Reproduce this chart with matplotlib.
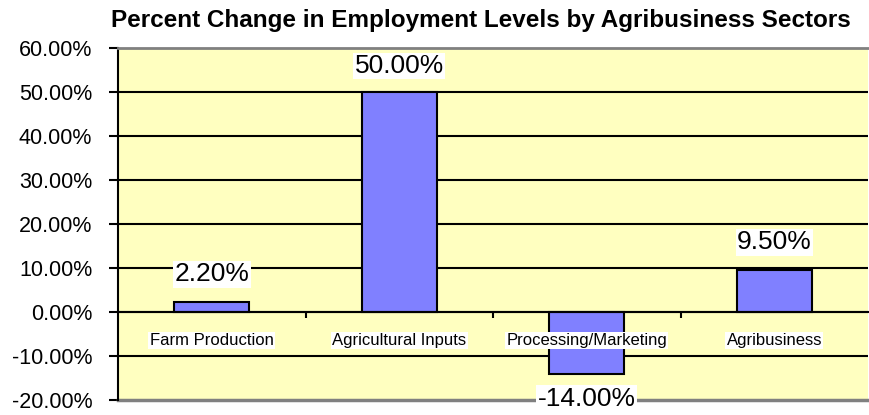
import matplotlib
matplotlib.use("Agg")
import matplotlib.pyplot as plt
from matplotlib.ticker import FuncFormatter, MultipleLocator

categories = ["Farm Production", "Agricultural Inputs", "Processing/Marketing", "Agribusiness"]
values = [2.2, 50.0, -14.0, 9.5]
title = "Percent Change in Employment Levels by Agribusiness Sectors"

plt.rcParams['font.family'] = ['Liberation Sans', 'DejaVu Sans']

W, H = 869, 415
fig = plt.figure(figsize=(W / 100, H / 100), dpi=100)
ax = fig.add_axes([118 / W, (H - 400) / H, (868 - 118) / W, (400 - 48) / H])
ax.set_facecolor("#FFFFC0")

x = list(range(len(categories)))
ax.bar(x, values, width=0.4, color="#8080FF", edgecolor="black", linewidth=1.5, zorder=3)

ax.set_xlim(-0.5, len(categories) - 0.5)
ax.set_ylim(-20, 60)
ax.yaxis.set_major_locator(MultipleLocator(10))
ax.yaxis.set_major_formatter(FuncFormatter(lambda v, p: f"{v:.2f}%"))
for yv in range(-10, 60, 10):
    ax.axhline(yv, color="black", linewidth=1.5, zorder=2)

ax.spines['right'].set_visible(False)
ax.spines['top'].set_color("#808080")
ax.spines['top'].set_linewidth(2)
ax.spines['left'].set_linewidth(1.5)
ax.spines['bottom'].set_position(('data', 0))
ax.spines['bottom'].set_linewidth(1.5)
ax.spines['bottom'].set_zorder(4)
ax.axhline(-20, color="#808080", linewidth=2.5, zorder=2, clip_on=False)

ax.tick_params(axis='y', direction='out', length=6.5, width=1.5, labelsize=15.5, pad=12)
ax.set_xticks(x)
ax.set_xticklabels(categories)
ax.set_xticks([i + 0.5 for i in x[:-1]], minor=True)
ax.tick_params(axis='x', which='major', length=0, pad=15, labelsize=12)
ax.tick_params(axis='x', which='minor', direction='out', length=4.5, width=1.5)
ax.xaxis.set_zorder(5)
for lab in ax.get_xticklabels():
    lab.set_bbox(dict(facecolor="white", edgecolor="none", pad=1))

fig.canvas.draw()
for xi, v in zip(x, values):
    py = ax.transData.transform((xi, v))[1]
    if v >= 0:
        off = min(28, (ax.bbox.y1 - py) - 18)
    else:
        off = -25
    ax.annotate(f"{v:.2f}%", (xi, v), xytext=(0, off), textcoords="offset pixels",
                ha="center", va="center", fontsize=19, zorder=6,
                bbox=dict(facecolor="white", edgecolor="none", pad=1), annotation_clip=False)

fig.text(481 / W, 1 - 27 / H, title, ha="center", va="baseline", fontsize=17.5, fontweight="bold")

fig.savefig("out.png", dpi=100)
